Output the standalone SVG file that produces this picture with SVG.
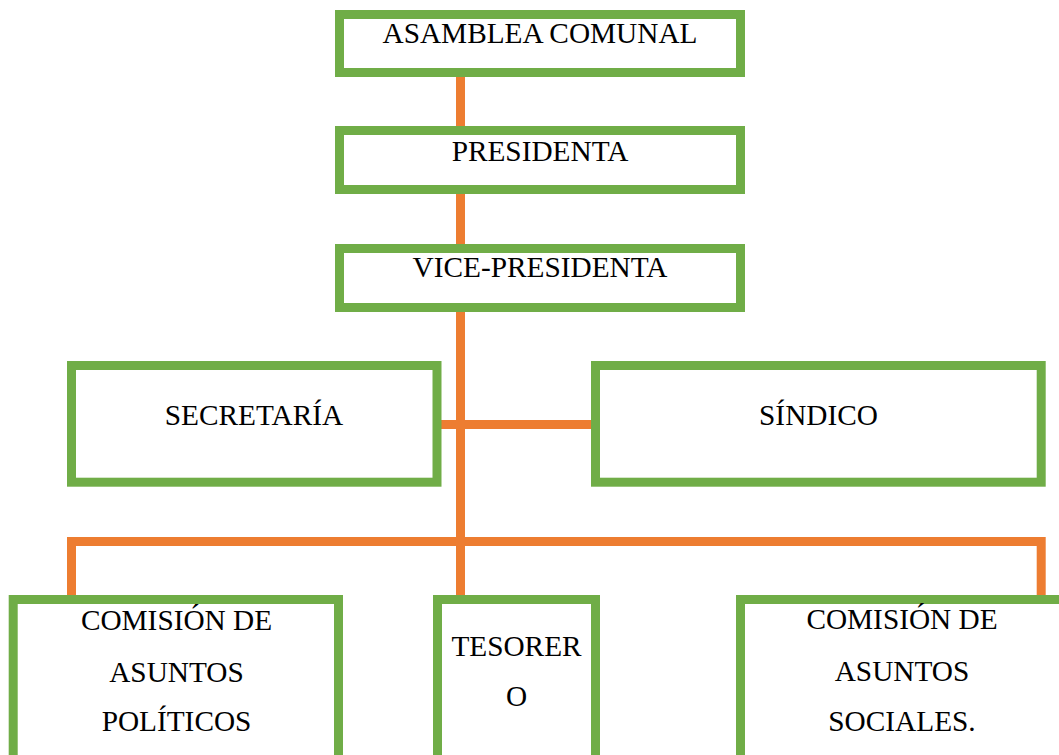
<svg xmlns="http://www.w3.org/2000/svg" width="1059" height="755" viewBox="0 0 1059 755">
<style>
.box{fill:#fff;stroke:#70AD47;stroke-width:9}
.con{fill:none;stroke:#ED7D31;stroke-width:9;stroke-linejoin:miter}
.t{font-family:'Liberation Serif','Times New Roman',serif;font-size:29.3px;fill:#000;text-anchor:middle}
</style>
<rect width="1059" height="755" fill="#fff"/>
<g id="connectors">
<path class="con" d="M460.5,72 V600"/>
<path class="con" d="M438,424.5 H594"/>
<path class="con" d="M71.5,600 V541.5 H1041.2 V600"/>
</g>
<g id="asamblea"><rect class="box" x="339.5" y="14.5" width="401" height="58"/><text class="t" x="540" y="43.3">ASAMBLEA COMUNAL</text></g>
<g id="presidenta"><rect class="box" x="339.5" y="130.5" width="401" height="59"/><text class="t" x="540" y="160.7">PRESIDENTA</text></g>
<g id="vicepresidenta"><rect class="box" x="339.5" y="248.5" width="401" height="59"/><text class="t" x="540" y="277.3">VICE-PRESIDENTA</text></g>
<g id="secretaria"><rect class="box" x="71.5" y="365.5" width="365.5" height="116.7"/><text class="t" x="254" y="425">SECRETARÍA</text></g>
<g id="sindico"><rect class="box" x="595.5" y="365.5" width="445.7" height="116.7"/><text class="t" x="818.5" y="425">SÍNDICO</text></g>
<g id="politicos"><rect class="box" x="13.2" y="599.5" width="325.3" height="200"/><text class="t" x="176.5" y="630">COMISIÓN DE</text><text class="t" x="176.5" y="681.5">ASUNTOS</text><text class="t" x="176.5" y="731">POLÍTICOS</text></g>
<g id="tesorero"><rect class="box" x="437.5" y="599.5" width="158" height="200"/><text class="t" x="516.5" y="656">TESORER</text><text class="t" x="516.5" y="706">O</text></g>
<g id="sociales"><rect class="box" x="740.5" y="599.5" width="325" height="200"/><text class="t" x="902" y="629">COMISIÓN DE</text><text class="t" x="902" y="680.7">ASUNTOS</text><text class="t" x="902" y="730.7">SOCIALES.</text></g>
</svg>
